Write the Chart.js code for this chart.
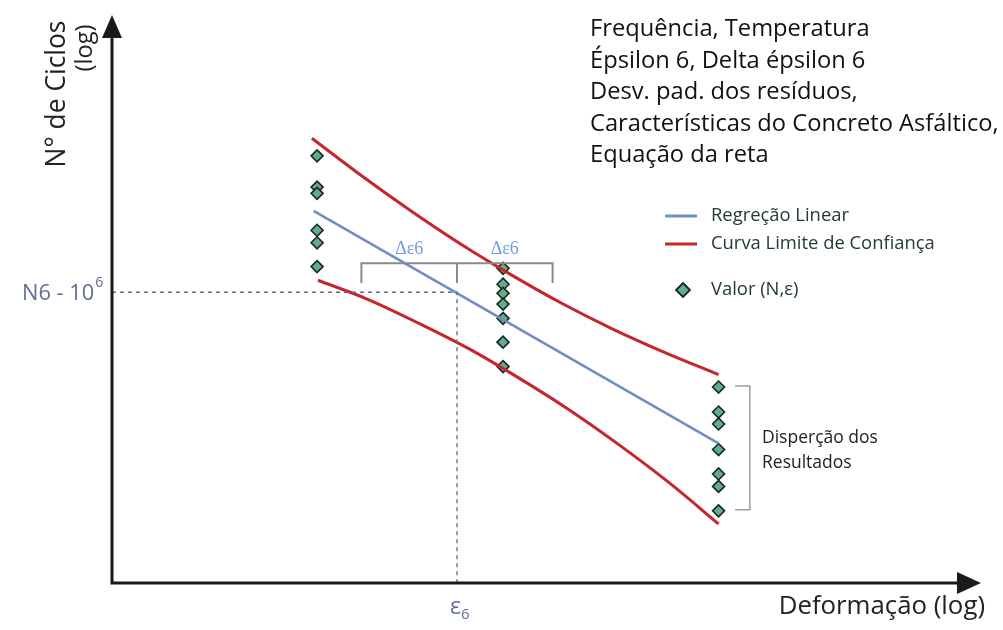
<!DOCTYPE html>
<html>
<head>
<meta charset="utf-8">
<script src="https://cdn.jsdelivr.net/npm/chart.js@4.4.1/dist/chart.umd.min.js"></script>
<style>
  html, body { margin: 0; padding: 0; background: #ffffff; }
  #wrap { width: 1003px; height: 630px; position: relative; }
</style>
</head>
<body>
<div id="wrap"><canvas id="fadiga" width="1003" height="630"></canvas></div>
<script>
// Ensaio de fadiga: N° de ciclos (log) x deformação (log), escala esquemática 0..10
const sampleX = [2.36, 2.36, 2.36, 2.36, 2.36, 2.36,
                 4.50, 4.50, 4.50, 4.50, 4.50, 4.50, 4.50,
                 6.98, 6.98, 6.98, 6.98, 6.98, 6.98, 6.98];
const sampleY = [7.52, 6.97, 6.86, 6.21, 5.99, 5.57,
                 5.54, 5.26, 5.10, 4.91, 4.66, 4.24, 3.81,
                 3.45, 3.01, 2.80, 2.35, 1.92, 1.70, 1.27];

const regressionX = [2.32, 6.98];
const regressionY = [6.55, 2.46];

const upperX = [2.30, 2.88, 3.45, 4.03, 4.60, 5.18, 5.75, 6.33, 6.98];
const upperY = [7.83, 7.16, 6.54, 5.95, 5.42, 4.92, 4.48, 4.08, 3.67];
const lowerX = [2.37, 2.95, 3.52, 4.10, 4.67, 5.25, 5.82, 6.40, 6.98];
const lowerY = [5.33, 4.99, 4.58, 4.13, 3.62, 3.06, 2.45, 1.78, 1.04];

// deformação correspondente a N = 10^6
const eps6 = 3.97;
const n6 = 5.12;

// chave dos dois intervalos Δε6
const deltaTicksX = [2.87, 3.97, 5.07];
const deltaTop = 5.63;
const deltaBottom = 5.28;
const deltaLabelY = 5.88;

// chave da dispersão dos resultados
const spreadX = [7.17, 7.34];
const spreadY = [3.47, 1.29];

const notes = [
  'Frequência, Temperatura',
  'Épsilon 6, Delta épsilon 6',
  'Desv. pad. dos resíduos,',
  'Características do Concreto Asfáltico,',
  'Equação da reta'
];
const legendLabels = ['Regreção Linear', 'Curva Limite de Confiança', 'Valor (N,ε)'];

const toPoints = (xs, ys) => xs.map((x, i) => ({ x: x, y: ys[i] }));

const RED = '#c4262b';
const BLUE = '#6f8dc6';
const REF = '#5d6f92';
const GREEN = '#5fae89';
const FONT = '"Open Sans"';

const lineBase = { showLine: true, pointRadius: 0, pointHoverRadius: 0, fill: false };

const datasets = [
  Object.assign({}, lineBase, {
    label: 'Referência N6',
    data: [{ x: 0, y: n6 }, { x: eps6, y: n6 }, { x: eps6, y: 0 }],
    borderColor: REF, borderWidth: 1.4, borderDash: [4, 4]
  }),
  Object.assign({}, lineBase, {
    label: 'Δε6',
    data: [{ x: deltaTicksX[0], y: deltaBottom }, { x: deltaTicksX[0], y: deltaTop },
           { x: deltaTicksX[2], y: deltaTop }, { x: deltaTicksX[2], y: deltaBottom }],
    borderColor: '#8a8a8a', borderWidth: 2
  }),
  Object.assign({}, lineBase, {
    label: 'Δε6 centro',
    data: [{ x: deltaTicksX[1], y: deltaTop }, { x: deltaTicksX[1], y: deltaBottom }],
    borderColor: '#8a8a8a', borderWidth: 2
  }),
  Object.assign({}, lineBase, {
    label: 'Dispersão',
    data: [{ x: spreadX[0], y: spreadY[0] }, { x: spreadX[1], y: spreadY[0] },
           { x: spreadX[1], y: spreadY[1] }, { x: spreadX[0], y: spreadY[1] }],
    borderColor: '#a0a0a0', borderWidth: 1.5
  }),
  Object.assign({}, lineBase, {
    label: legendLabels[0],
    data: toPoints(regressionX, regressionY),
    borderColor: BLUE, borderWidth: 2.6
  }),
  Object.assign({}, lineBase, {
    label: legendLabels[1],
    data: toPoints(upperX, upperY),
    borderColor: RED, borderWidth: 3, cubicInterpolationMode: 'monotone'
  }),
  Object.assign({}, lineBase, {
    label: legendLabels[1] + ' inferior',
    data: toPoints(lowerX, lowerY),
    borderColor: RED, borderWidth: 3, cubicInterpolationMode: 'monotone'
  }),
  {
    label: legendLabels[2],
    data: toPoints(sampleX, sampleY),
    showLine: false,
    pointStyle: 'rectRot',
    pointRadius: 6,
    pointHoverRadius: 6,
    pointBackgroundColor: GREEN,
    pointBorderColor: '#1b2620',
    pointBorderWidth: 1.6
  }
];

// tamanho de fonte que faz o texto ocupar a largura pedida
function fitSize(ctx, text, width) {
  ctx.font = '100px ' + FONT;
  return 100 * width / ctx.measureText(text).width;
}

function arrowHead(ctx, tipX, tipY, dir) {
  ctx.beginPath();
  if (dir === 'up') {
    ctx.moveTo(tipX, tipY);
    ctx.lineTo(tipX - 10, tipY + 23);
    ctx.lineTo(tipX + 10, tipY + 23);
  } else {
    ctx.moveTo(tipX, tipY);
    ctx.lineTo(tipX - 24, tipY - 11);
    ctx.lineTo(tipX - 24, tipY + 11);
  }
  ctx.closePath();
  ctx.fill();
}

const annotationsPlugin = {
  id: 'fadigaAnotacoes',
  afterDatasetsDraw(chart) {
    const ctx = chart.ctx;
    const a = chart.chartArea;
    const xs = chart.scales.x;
    const ys = chart.scales.y;
    ctx.save();

    // eixos com setas
    ctx.strokeStyle = '#1a1a1a';
    ctx.fillStyle = '#1a1a1a';
    ctx.lineWidth = 3;
    ctx.beginPath();
    ctx.moveTo(a.left, a.top + 18);
    ctx.lineTo(a.left, a.bottom);
    ctx.lineTo(a.right - 18, a.bottom);
    ctx.stroke();
    arrowHead(ctx, a.left, a.top, 'up');
    arrowHead(ctx, a.right, a.bottom, 'right');

    // título do eixo vertical
    ctx.fillStyle = '#222222';
    ctx.textAlign = 'center';
    ctx.textBaseline = 'middle';
    let s = fitSize(ctx, 'N° de Ciclos', 147);
    ctx.save();
    ctx.translate(57, 94);
    ctx.rotate(-Math.PI / 2);
    ctx.font = s.toFixed(1) + 'px ' + FONT;
    ctx.fillText('N° de Ciclos', 0, 0);
    ctx.restore();
    s = fitSize(ctx, '(log)', 47);
    ctx.save();
    ctx.translate(85, 48);
    ctx.rotate(-Math.PI / 2);
    ctx.font = s.toFixed(1) + 'px ' + FONT;
    ctx.fillText('(log)', 0, 0);
    ctx.restore();

    // título do eixo horizontal
    s = fitSize(ctx, 'Deformação (log)', 206);
    ctx.textAlign = 'right';
    ctx.font = s.toFixed(1) + 'px ' + FONT;
    ctx.fillText('Deformação (log)', 985, 607);

    // N6 - 10^6
    ctx.fillStyle = REF;
    const yN6 = ys.getPixelForValue(n6);
    ctx.textAlign = 'left';
    ctx.textBaseline = 'alphabetic';
    const base = 'N6 - 10';
    s = fitSize(ctx, base, 72);
    ctx.font = s.toFixed(1) + 'px ' + FONT;
    ctx.fillText(base, 22, yN6 + 8);
    const bw = ctx.measureText(base).width;
    ctx.font = '14px ' + FONT;
    ctx.fillText('6', 22 + bw + 1, yN6 - 5);

    // ε6
    const xE6 = xs.getPixelForValue(eps6);
    ctx.font = '23px ' + FONT;
    const ew = ctx.measureText('ε').width;
    ctx.fillText('ε', xE6 - 7, 614);
    ctx.font = '15px ' + FONT;
    ctx.fillText('6', xE6 - 7 + ew, 619);

    // rótulos Δε6
    ctx.fillStyle = '#6f9be6';
    ctx.textAlign = 'center';
    ctx.textBaseline = 'middle';
    ctx.font = '18px "Liberation Serif"';
    for (let i = 0; i < 2; i++) {
      const cx = xs.getPixelForValue((deltaTicksX[i] + deltaTicksX[i + 1]) / 2);
      ctx.fillText('Δε6', cx, ys.getPixelForValue(deltaLabelY));
    }

    // bloco de observações
    ctx.fillStyle = '#111111';
    ctx.textAlign = 'left';
    ctx.textBaseline = 'alphabetic';
    s = fitSize(ctx, notes[3], 408);
    ctx.font = s.toFixed(1) + 'px ' + FONT;
    notes.forEach((t, i) => ctx.fillText(t, 590, 36 + i * 31.6));

    // legenda
    s = fitSize(ctx, legendLabels[1], 224);
    ctx.font = s.toFixed(1) + 'px ' + FONT;
    ctx.fillStyle = '#223a3a';
    ctx.textBaseline = 'middle';
    const legY = [216, 244, 290];
    ctx.lineWidth = 3;
    ctx.strokeStyle = BLUE;
    ctx.beginPath(); ctx.moveTo(665, legY[0]); ctx.lineTo(697, legY[0]); ctx.stroke();
    ctx.strokeStyle = RED;
    ctx.beginPath(); ctx.moveTo(665, legY[1]); ctx.lineTo(697, legY[1]); ctx.stroke();
    ctx.fillStyle = GREEN;
    ctx.strokeStyle = '#1b2620';
    ctx.lineWidth = 1.8;
    ctx.beginPath();
    ctx.moveTo(683, legY[2] - 7); ctx.lineTo(690, legY[2]);
    ctx.lineTo(683, legY[2] + 7); ctx.lineTo(676, legY[2]);
    ctx.closePath(); ctx.fill(); ctx.stroke();
    ctx.fillStyle = '#223a3a';
    legendLabels.forEach((t, i) => ctx.fillText(t, 711, legY[i]));

    // dispersão dos resultados
    ctx.fillStyle = '#222222';
    s = fitSize(ctx, 'Disperção dos', 116);
    ctx.font = s.toFixed(1) + 'px ' + FONT;
    ctx.fillText('Disperção dos', 762, 438);
    ctx.fillText('Resultados', 762, 463);

    ctx.restore();
  }
};

new Chart(document.getElementById('fadiga'), {
  type: 'scatter',
  data: { datasets: datasets },
  options: {
    responsive: false,
    animation: false,
    layout: { padding: { left: 112, right: 22, top: 15, bottom: 47 } },
    scales: {
      x: { type: 'linear', min: 0, max: 10, display: false },
      y: { type: 'linear', min: 0, max: 10, display: false }
    },
    plugins: {
      legend: { display: false },
      tooltip: { enabled: false }
    }
  },
  plugins: [annotationsPlugin]
});
</script>
</body>
</html>
